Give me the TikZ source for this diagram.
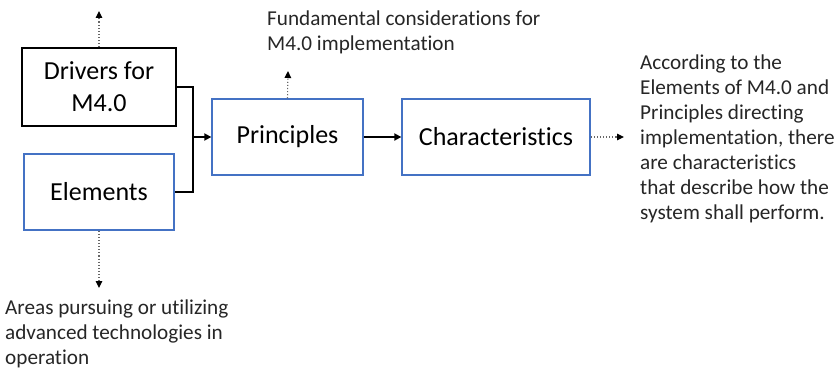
\documentclass[tikz,border=0pt]{standalone}
\usepackage{fontspec}
\setmainfont{Carlito}[RawFeature=-liga]
\usetikzlibrary{arrows.meta}
\definecolor{boxblue}{RGB}{68,114,196}
\tikzset{
  box/.style={draw=#1, line width=1.3pt, inner sep=0pt, font=\fontsize{26}{32}\selectfont, align=center},
  box/.default=boxblue,
  solidarrow/.style={line width=1.7pt, -{Triangle[length=7pt,width=7pt]}},
  dotarrow/.style={draw=black!60, line width=1.1pt, dotted, -{Triangle[length=7pt,width=6.5pt,color=black,fill=black]}},
  note/.style={font=\fontsize{21.2}{25}\selectfont, align=left, inner sep=0pt, text=black!85, anchor=north west}
}
\begin{document}
\begin{tikzpicture}[x=1pt,y=-1pt]
\useasboundingbox (0,0) rectangle (836,369);
\node[box=black, minimum width=154pt, minimum height=78pt] (drivers) at (99,87) {Drivers for\\M4.0};
\node[box, minimum width=150pt, minimum height=76pt] (elements) at (99,192) {Elements};
\node[box, minimum width=151pt, minimum height=76pt] (principles) at (287.5,137) {Principles};
\node[box, minimum width=188pt, minimum height=76pt] (charac) at (496,137) {Characteristics};
\coordinate (join) at (193,137);
\coordinate (dtop) at (99,11);
\coordinate (ebot) at (99,288);
\coordinate (ptop) at (288,71);
\coordinate (cright) at (624,137);
\draw[line width=1.7pt] (drivers.east) -| (join) |- (elements.east);
\draw[solidarrow] (join) -- (principles.west);
\draw[solidarrow] (principles.east) -- (charac.west);
\draw[dotarrow] (drivers.north) -- (dtop);
\draw[dotarrow] (elements.south) -- (ebot);
\draw[dotarrow] (principles.north) -- (ptop);
\draw[dotarrow] (charac.east) -- (cright);
\node[note] (topnote) at (267,10.5) {Fundamental considerations for\\M4.0 implementation};
\node[note] (botnote) at (5,299.5) {Areas pursuing or utilizing\\advanced technologies in\\operation};
\node[note] (rightnote) at (640,54.5) {According to the\\Elements of M4.0 and\\Principles directing\\implementation, there\\are characteristics\\that describe how the\\system shall perform.};
\end{tikzpicture}
\end{document}
